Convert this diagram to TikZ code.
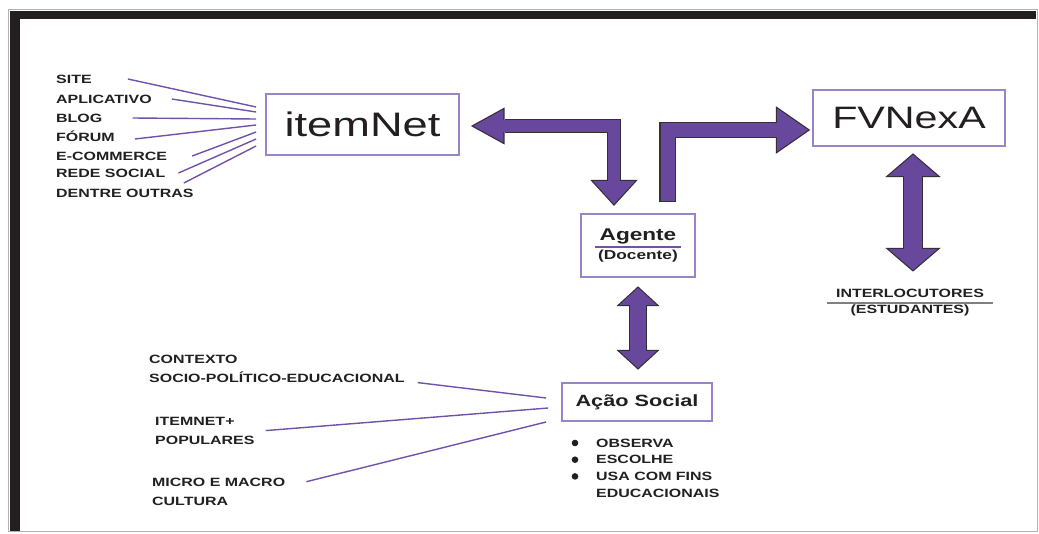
\documentclass[tikz,border=0pt]{standalone}
\usepackage{fontspec}
\setmainfont{Liberation Sans}[FakeStretch=1.33]
\usetikzlibrary{arrows.meta,positioning}

\definecolor{boxline}{HTML}{9A84C8}
\definecolor{wire}{HTML}{7052A8}
\definecolor{arrowbody}{HTML}{68489C}
\definecolor{arrowrim}{HTML}{353035}
\definecolor{ink}{HTML}{231F20}

\tikzset{
  boxnode/.style={draw=boxline, line width=1.8pt, inner sep=0pt, text=ink},
  smalltxt/.style={font=\bfseries\fontsize{12}{19}\selectfont, text=ink, inner sep=0pt},
  item/.style={smalltxt, anchor=west, text height=8.6pt, text depth=0pt},
  wireline/.style={draw=wire, line width=1.4pt},
  rim/.style={draw=arrowrim, line join=miter},
  body/.style={draw=arrowbody, line join=miter}
}

\begin{document}
\begin{tikzpicture}[x=1pt, y=-1pt]
  \useasboundingbox (0,0) rectangle (1039,533);
  % frame
  \draw[gray!60, line width=1.5pt] (8.5,9.5) rectangle (1037.5,531.5);
  \fill[ink] (10,11) rectangle (1036,19);
  \fill[ink] (10,11) rectangle (20,531);

  % boxes
  \node[boxnode, minimum width=193pt, minimum height=61pt, font=\fontsize{34}{34}\selectfont] (itemnet) at (362.5,124.5) {itemNet};
  \node[boxnode, minimum width=192pt, minimum height=56pt, font=\fontsize{31}{31}\selectfont] (fvnexa) at (909,118) {FVNexA};
  \node[boxnode, minimum width=114pt, minimum height=63pt] (agentebox) at (638,245.5) {};
  \node[font=\bfseries\fontsize{17}{17}\selectfont, text=ink, inner sep=0pt, anchor=base] (agente) at (638,240) {Agente};
  \node[font=\bfseries\fontsize{13}{13}\selectfont, text=ink, inner xsep=3pt, inner ysep=0pt, anchor=base] (docente) at ([yshift=-19.5pt]agente.base) {(Docente)};
  \draw[wire, line width=1.5pt] ([yshift=3pt]docente.north west) -- ([yshift=3pt]docente.north east);
  \node[boxnode, minimum width=150pt, minimum height=38pt, font=\bfseries\fontsize{16.3}{16.3}\selectfont] (acao) at (637,402) {Ação Social};

  % interlocutores
  \node[smalltxt, minimum width=166pt, anchor=base] (interloc) at (910,297.3) {INTERLOCUTORES};
  \node[smalltxt, anchor=base] (estudantes) at ([yshift=-16pt]interloc.base) {(ESTUDANTES)};
  \draw[gray, line width=1.5pt] ([yshift=-5.7pt]interloc.base west) -- ([yshift=-5.7pt]interloc.base east);

  % left list
  \foreach \name/\txt/\y in {site/SITE/79, aplicativo/APLICATIVO/99, blog/BLOG/118, forum/FÓRUM/137, ecommerce/E-COMMERCE/156, redesocial/REDE SOCIAL/173, dentre/DENTRE OUTRAS/193}
    \node[item] (\name) at (56,\y) {\txt};
  \foreach \name/\gap/\dy/\ey in {site/36/0/17.5, aplicativo/20/0/12.5, blog/30/0/5.5, forum/20/-2/-0.5, ecommerce/25/0/-7.5, redesocial/13/0/-14.5, dentre/-10/10/-21.5}
    \draw[wireline] ([xshift=\gap pt, yshift=\dy pt]\name.east) -- ([xshift=-9pt, yshift=\ey pt]itemnet.west);

  % lower left labels
  \node[smalltxt, anchor=north west, align=left] (contexto) at (149,354.7) {CONTEXTO\\SOCIO-POLÍTICO-EDUCACIONAL};
  \node[smalltxt, anchor=north west, align=left] (populares) at (155,416.7) {ITEMNET+\\POPULARES};
  \node[smalltxt, anchor=north west, align=left] (cultura) at (152,477.7) {MICRO E MACRO\\CULTURA};
  \draw[wireline] ([xshift=13pt]contexto.south east) -- ([xshift=-15pt, yshift=4pt]acao.west);
  \draw[wireline] ([xshift=11pt]populares.east) -- ([xshift=-13pt, yshift=-6pt]acao.west);
  \draw[wireline] ([xshift=21pt, yshift=-4pt]cultura.north east) -- ([xshift=-15pt, yshift=-20pt]acao.west);

  % actions
  \node[smalltxt, anchor=north west, align=left, font=\bfseries\fontsize{12}{16.7}\selectfont] (acoes) at (596,438.7) {OBSERVA\\ESCOLHE\\USA COM FINS\\EDUCACIONAIS};
  \foreach \r in {0,1,2}
    \fill[ink] ([xshift=-21pt, yshift={-4.3pt-\r*16.7pt}]acoes.north west) circle (3.3pt);

  % block arrows
  \draw[rim, line width=14.4pt, {Triangle[width=47.4pt,length=26pt,line width'=0pt]}-{Triangle[width=37.1pt,length=33.7pt,line width'=0pt]}, shorten <=-1.8pt, shorten >=-2.5pt] ([xshift=-24pt,yshift=9pt]agentebox.north) |- ([xshift=13.5pt,yshift=-1.5pt]itemnet.east);
  \draw[body, line width=12pt, {Triangle[width=42pt,length=23pt,line width'=0pt]}-{Triangle[width=33pt,length=30pt,line width'=0pt]}] ([xshift=-24pt,yshift=9pt]agentebox.north) |- ([xshift=13.5pt,yshift=-1.5pt]itemnet.east);

  \draw[rim, line width=16.4pt, -{Triangle[width=47.6pt,length=34.3pt,line width'=0pt]}, shorten <=-1.2pt, shorten >=-2.1pt] ([xshift=29.5pt,yshift=12pt]agentebox.north) |- ([xshift=-4pt,yshift=-12pt]fvnexa.west);
  \draw[body, line width=14pt, -{Triangle[width=43pt,length=31pt,line width'=0pt]}] ([xshift=29.5pt,yshift=12pt]agentebox.north) |- ([xshift=-4pt,yshift=-12pt]fvnexa.west);

  \draw[rim, line width=20.4pt, {Triangle[width=55.5pt,length=23.8pt,line width'=0pt]}-{Triangle[width=55.5pt,length=23.8pt,line width'=0pt]}, shorten <=-1.6pt, shorten >=-1.6pt] ([xshift=4pt,yshift=-8pt]fvnexa.south) -- ([xshift=3pt,yshift=18.7pt]interloc.north);
  \draw[body, line width=18pt, {Triangle[width=49pt,length=21pt,line width'=0pt]}-{Triangle[width=49pt,length=21pt,line width'=0pt]}] ([xshift=4pt,yshift=-8pt]fvnexa.south) -- ([xshift=3pt,yshift=18.7pt]interloc.north);

  \draw[rim, line width=18.4pt, {Triangle[width=43.1pt,length=19.8pt,line width'=0pt]}-{Triangle[width=43.1pt,length=19.8pt,line width'=0pt]}, shorten <=-1.6pt, shorten >=-1.6pt] ([yshift=-10pt]agentebox.south) -- ([xshift=1pt,yshift=14pt]acao.north);
  \draw[body, line width=16pt, {Triangle[width=37pt,length=17pt,line width'=0pt]}-{Triangle[width=37pt,length=17pt,line width'=0pt]}] ([yshift=-10pt]agentebox.south) -- ([xshift=1pt,yshift=14pt]acao.north);
\end{tikzpicture}
\end{document}
